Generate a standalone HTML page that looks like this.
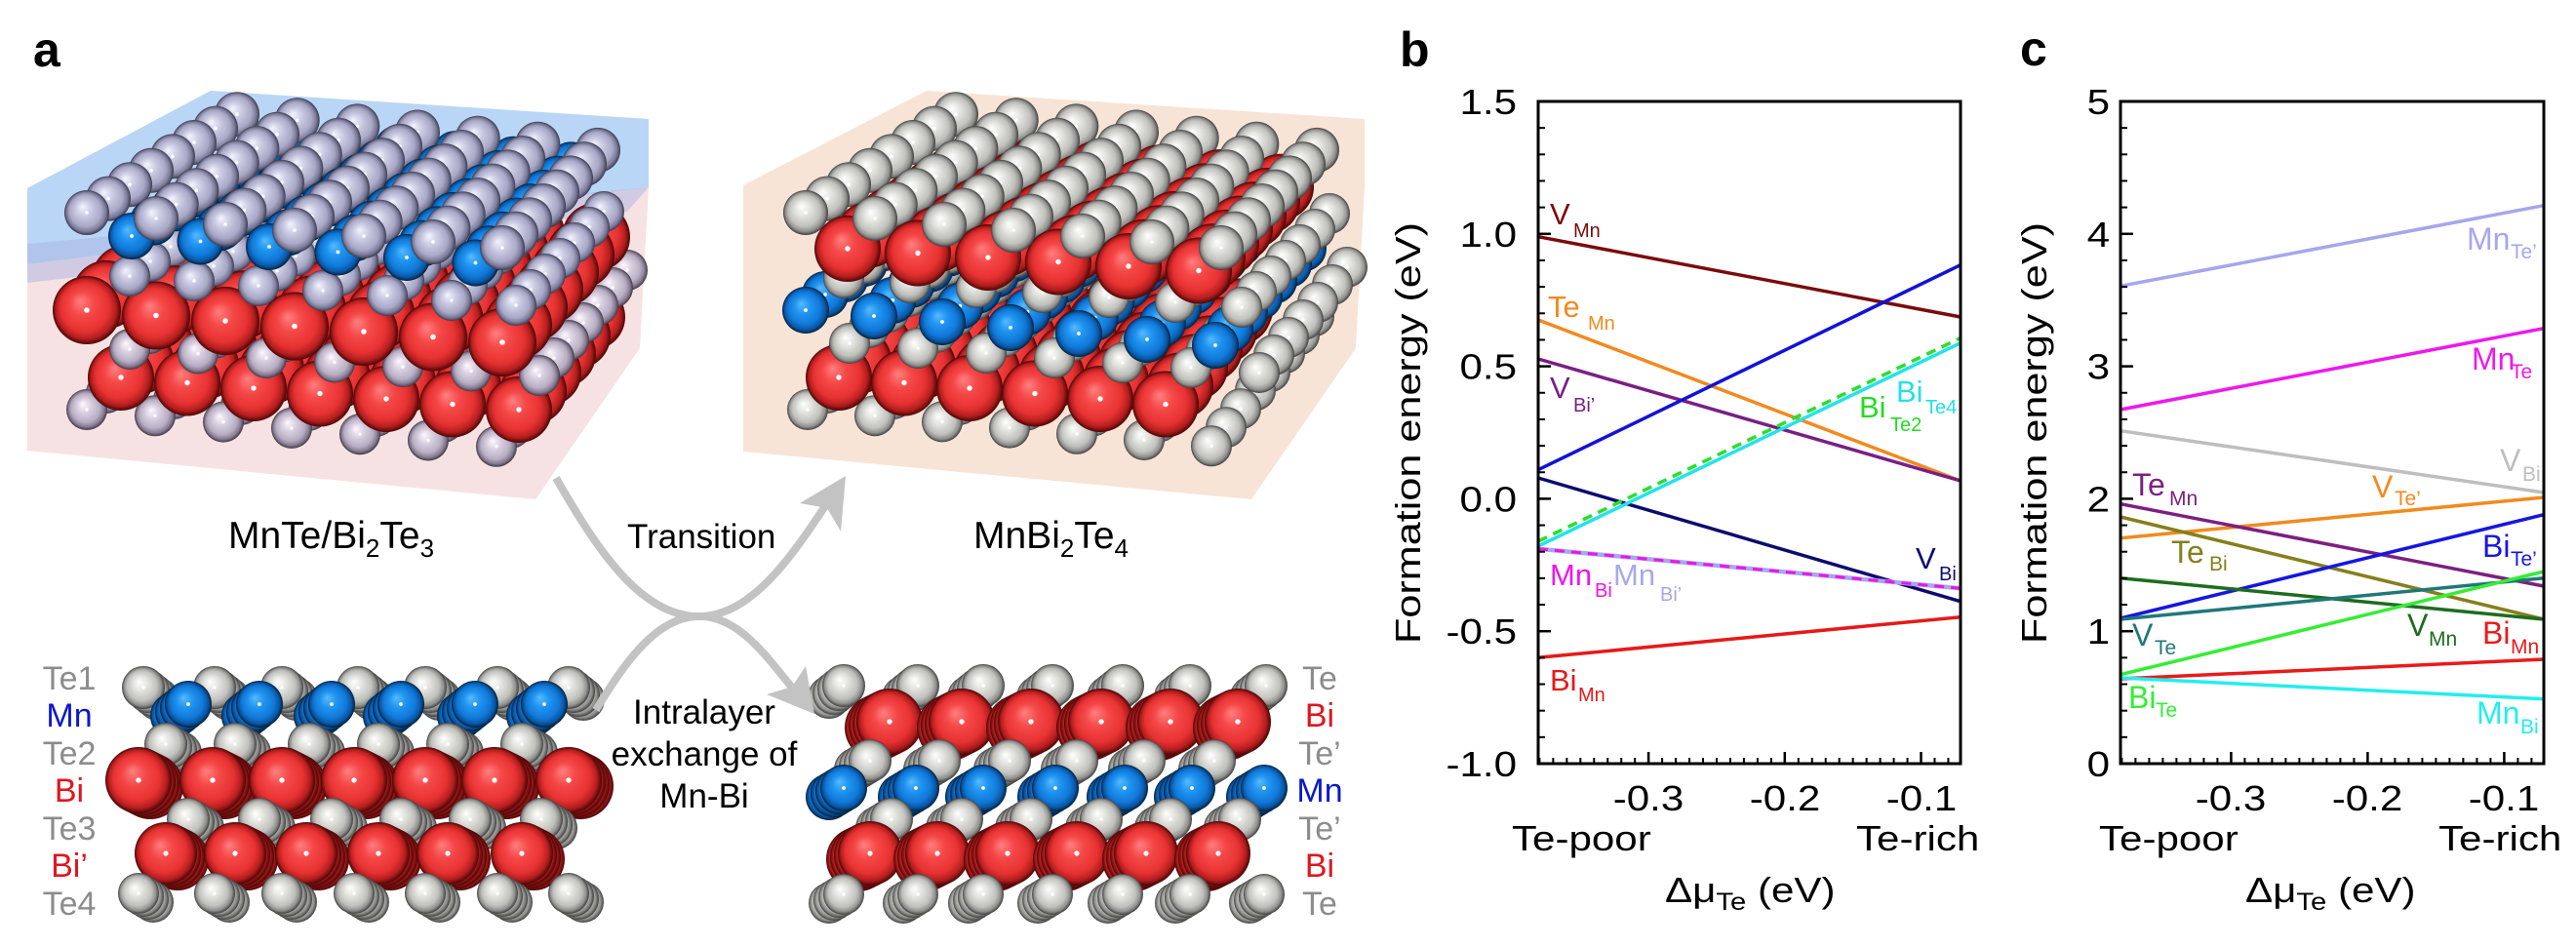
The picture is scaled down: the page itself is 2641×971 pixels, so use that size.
<!DOCTYPE html>
<html><head><meta charset="utf-8">
<style>
html,body{margin:0;padding:0;background:#fff;}
svg{display:block;}
text{font-family:"Liberation Sans",Arial,sans-serif;}
</style></head><body>
<svg id="fig" width="2641" height="971" viewBox="0 0 2641 971" xmlns="http://www.w3.org/2000/svg">
<defs>
 <radialGradient id="gR" cx="50%" cy="50%" r="50%" fx="40%" fy="36%">
  <stop offset="0" stop-color="#ff8080"/><stop offset=".35" stop-color="#f54848"/><stop offset=".7" stop-color="#e83232"/><stop offset=".88" stop-color="#b41e1e"/><stop offset="1" stop-color="#4a0606"/>
 </radialGradient>
 <radialGradient id="gB" cx="50%" cy="50%" r="50%" fx="40%" fy="36%">
  <stop offset="0" stop-color="#58baff"/><stop offset=".35" stop-color="#2094f0"/><stop offset=".7" stop-color="#1078d8"/><stop offset=".88" stop-color="#0a55a0"/><stop offset="1" stop-color="#03203c"/>
 </radialGradient>
 <radialGradient id="gG" cx="50%" cy="50%" r="50%" fx="40%" fy="36%">
  <stop offset="0" stop-color="#ffffff"/><stop offset=".35" stop-color="#e2e2de"/><stop offset=".7" stop-color="#c0c0bc"/><stop offset=".88" stop-color="#8e8e8c"/><stop offset="1" stop-color="#3e3e3e"/>
 </radialGradient>
 <radialGradient id="gL" cx="50%" cy="50%" r="50%" fx="40%" fy="36%">
  <stop offset="0" stop-color="#f4f4ff"/><stop offset=".35" stop-color="#cacae2"/><stop offset=".7" stop-color="#a9a9c8"/><stop offset=".88" stop-color="#7a7a98"/><stop offset="1" stop-color="#3a3a4e"/>
 </radialGradient>
 <radialGradient id="gP" cx="50%" cy="50%" r="50%" fx="40%" fy="36%">
  <stop offset="0" stop-color="#fff8ff"/><stop offset=".35" stop-color="#d8d0e0"/><stop offset=".7" stop-color="#b8aec4"/><stop offset=".88" stop-color="#85798f"/><stop offset="1" stop-color="#3e3844"/>
 </radialGradient>
 <pattern id="pxb" patternUnits="userSpaceOnUse" x="1577.4" y="0" width="13.968" height="971"><rect width="2" height="971" fill="#000"/></pattern>
 <pattern id="pxc" patternUnits="userSpaceOnUse" x="2174.4" y="0" width="14" height="971"><rect width="2" height="971" fill="#000"/></pattern>
 <pattern id="py" patternUnits="userSpaceOnUse" x="0" y="103" width="2641" height="27.16"><rect width="2641" height="2" fill="#000"/></pattern>
</defs>
<rect width="2641" height="971" fill="#fff"/>

<!-- ===== Panel a ===== -->
<text x="34" y="68" font-size="50" font-weight="bold">a</text>

<polygon points="28,193 216,93 665,122 665,192 28,271" fill="#b9d6f6"/>
<polygon points="28,271 665,192 656,357 549,512 28,462" fill="#f7e2e3"/>
<polygon points="28,250 665,192 643,217 28,290" fill="#a9b3e2" opacity="0.5"/>
<polygon points="762,190 950,93 1399,122 1399,192 1390,357 1283,512 762,463" fill="#f7e4d6"/>

<g id="atoms"></g>

<text x="234" y="562" font-size="39">MnTe/Bi<tspan font-size="26" dy="9">2</tspan><tspan dy="-9">Te</tspan><tspan font-size="26" dy="9">3</tspan></text>
<text x="998" y="562" font-size="39">MnBi<tspan font-size="26" dy="9">2</tspan><tspan dy="-9">Te</tspan><tspan font-size="26" dy="9">4</tspan></text>
<text x="643" y="562" font-size="35">Transition</text>
<text x="722" y="742" font-size="35" text-anchor="middle">Intralayer</text>
<text x="722" y="785" font-size="35" text-anchor="middle">exchange of</text>
<text x="722" y="828" font-size="35" text-anchor="middle">Mn-Bi</text>

<g font-size="34" text-anchor="middle">
 <text x="71" y="707" fill="#8c8c8c">Te1</text>
 <text x="71" y="745" fill="#0c18c8">Mn</text>
 <text x="71" y="784" fill="#8c8c8c">Te2</text>
 <text x="71" y="822" fill="#e0161e">Bi</text>
 <text x="71" y="861" fill="#8c8c8c">Te3</text>
 <text x="71" y="899" fill="#e0161e">Bi’</text>
 <text x="71" y="938" fill="#8c8c8c">Te4</text>
</g>
<g font-size="34" text-anchor="middle">
 <text x="1353" y="707" fill="#8c8c8c">Te</text>
 <text x="1353" y="745" fill="#e0161e">Bi</text>
 <text x="1353" y="784" fill="#8c8c8c">Te’</text>
 <text x="1353" y="822" fill="#0c18c8">Mn</text>
 <text x="1353" y="861" fill="#8c8c8c">Te’</text>
 <text x="1353" y="899" fill="#e0161e">Bi</text>
 <text x="1353" y="938" fill="#8c8c8c">Te</text>
</g>

<g fill="none" stroke="#c3c3c3" stroke-width="8" stroke-linecap="butt">
 <path d="M570,490 C610,560 655,630 714,632 C772,634 815,565 852,510"/>
 <path d="M611,728 C640,680 672,634 714,632 C756,630 785,672 812,705"/>
</g>
<polygon points="867,488 820,516 848,521 862,545" fill="#c3c3c3"/>
<polygon points="835,732 786,712 812,704 826,683" fill="#c3c3c3"/>

<!-- ===== Panel b ===== -->
<text x="1435" y="68" font-size="50" font-weight="bold">b</text>
<g stroke-width="3.5" fill="none">
 <line x1="1577" y1="242.7" x2="2010" y2="325" stroke="#7a0c0c"/>
 <line x1="1577" y1="328" x2="2010" y2="493" stroke="#f28a1e"/>
 <line x1="1577" y1="368" x2="2010" y2="493" stroke="#7a1e86"/>
 <line x1="1577" y1="490" x2="2010" y2="616.7" stroke="#0c0c6e"/>
 <line x1="1577" y1="560" x2="2010" y2="351.7" stroke="#22e4e8"/>
 <line x1="1577" y1="555" x2="2010" y2="346.5" stroke="#2ae02a" stroke-dasharray="10 7"/>
 <line x1="1577" y1="481.7" x2="2010" y2="271.7" stroke="#1212d8"/>
 <line x1="1577" y1="562.7" x2="2010" y2="603.3" stroke="#a8a8ea" stroke-width="4.5"/>
 <line x1="1577" y1="562.7" x2="2010" y2="603.3" stroke="#ee14ee" stroke-width="3" stroke-dasharray="10 7"/>
 <line x1="1577" y1="674.3" x2="2010" y2="632.7" stroke="#e81818"/>
</g>
<rect x="1577" y="104" width="433" height="679" fill="none" stroke="#000" stroke-width="3"/>
<rect x="1577" y="777" width="433" height="6" fill="url(#pxb)"/>
<rect x="1577" y="104" width="7" height="679" fill="url(#py)"/>
<g stroke="#000" stroke-width="2.5">
 <line x1="1690.1" y1="771" x2="1690.1" y2="783"/>
 <line x1="1829.8" y1="771" x2="1829.8" y2="783"/>
 <line x1="1969.5" y1="771" x2="1969.5" y2="783"/>
 <line x1="1577" y1="239.8" x2="1590" y2="239.8"/>
 <line x1="1577" y1="375.6" x2="1590" y2="375.6"/>
 <line x1="1577" y1="511.4" x2="1590" y2="511.4"/>
 <line x1="1577" y1="647.2" x2="1590" y2="647.2"/>
</g>
<g font-size="36" text-anchor="end">
 <text transform="translate(1555,117) scale(1.17,1)">1.5</text>
 <text transform="translate(1555,252.8) scale(1.17,1)">1.0</text>
 <text transform="translate(1555,388.6) scale(1.17,1)">0.5</text>
 <text transform="translate(1555,524.4) scale(1.17,1)">0.0</text>
 <text transform="translate(1555,660.2) scale(1.17,1)">-0.5</text>
 <text transform="translate(1555,796) scale(1.17,1)">-1.0</text>
</g>
<g font-size="36" text-anchor="middle">
 <text transform="translate(1690,831) scale(1.17,1)">-0.3</text>
 <text transform="translate(1830,831) scale(1.17,1)">-0.2</text>
 <text transform="translate(1970,831) scale(1.17,1)">-0.1</text>
</g>
<g font-size="36">
 <text transform="translate(1550,872) scale(1.17,1)">Te-poor</text>
 <text transform="translate(1903,872) scale(1.17,1)">Te-rich</text>
 <text transform="translate(1707,925) scale(1.17,1)">Δμ<tspan font-size="25" dy="8">Te</tspan><tspan dy="-8"> (eV)</tspan></text>
 <text transform="translate(1456,444) rotate(-90) scale(1.2,1)" text-anchor="middle">Formation energy (eV)</text>
</g>
<g font-size="31">
 <text x="1589" y="230" fill="#7a0c0c">V</text><text x="1613" y="243" font-size="20" fill="#7a0c0c">Mn</text>
 <text x="1587" y="325" fill="#f28a1e">Te</text><text x="1628" y="338" font-size="20" fill="#f28a1e">Mn</text>
 <text x="1589" y="408" fill="#7a1e86">V</text><text x="1613" y="422" font-size="20" fill="#7a1e86">Bi’</text>
 <text x="1906" y="428" fill="#22dd22">Bi</text><text x="1938" y="442" font-size="20" fill="#22dd22">Te2</text>
 <text x="1944" y="412" fill="#22e0e8">Bi</text><text x="1974" y="424" font-size="20" fill="#22e0e8">Te4</text>
 <text x="1964" y="583" fill="#0c0c6e">V</text><text x="1988" y="595" font-size="20" fill="#0c0c6e">Bi</text>
 <text x="1589" y="600" fill="#ee14ee">Mn</text><text x="1635" y="612" font-size="20" fill="#ee14ee">Bi</text>
 <text x="1654" y="600" fill="#a8a8ea">Mn</text><text x="1702" y="616" font-size="20" fill="#a8a8ea">Bi’</text>
 <text x="1589" y="708" fill="#e81818">Bi</text><text x="1618" y="719" font-size="20" fill="#e81818">Mn</text>
</g>

<!-- ===== Panel c ===== -->
<text x="2071" y="67" font-size="50" font-weight="bold">c</text>
<g stroke-width="3.5" fill="none">
 <line x1="2174" y1="293.3" x2="2608" y2="210.7" stroke="#a6a6ee"/>
 <line x1="2174" y1="420" x2="2608" y2="336.7" stroke="#ee18ee"/>
 <line x1="2174" y1="441.7" x2="2608" y2="505" stroke="#bebebe"/>
 <line x1="2174" y1="551.7" x2="2608" y2="510" stroke="#f28a1e"/>
 <line x1="2174" y1="516.7" x2="2608" y2="601" stroke="#7d1f80"/>
 <line x1="2174" y1="530" x2="2608" y2="635" stroke="#857f1c"/>
 <line x1="2174" y1="634" x2="2608" y2="527.7" stroke="#1616e0"/>
 <line x1="2174" y1="592.7" x2="2608" y2="635" stroke="#1e6c1e"/>
 <line x1="2174" y1="635" x2="2608" y2="592.7" stroke="#1f7878"/>
 <line x1="2174" y1="691.7" x2="2608" y2="586" stroke="#33ee33"/>
 <line x1="2174" y1="696" x2="2608" y2="676" stroke="#ea1a1a"/>
 <line x1="2174" y1="695" x2="2608" y2="716.7" stroke="#22eeee"/>
</g>
<rect x="2174" y="104" width="434" height="679" fill="none" stroke="#000" stroke-width="3"/>
<rect x="2174" y="777" width="434" height="6" fill="url(#pxc)"/>
<rect x="2174" y="104" width="7" height="679" fill="url(#py)"/>
<g stroke="#000" stroke-width="2.5">
 <line x1="2287.4" y1="771" x2="2287.4" y2="783"/>
 <line x1="2427.4" y1="771" x2="2427.4" y2="783"/>
 <line x1="2567.4" y1="771" x2="2567.4" y2="783"/>
 <line x1="2174" y1="239.8" x2="2187" y2="239.8"/>
 <line x1="2174" y1="375.6" x2="2187" y2="375.6"/>
 <line x1="2174" y1="511.4" x2="2187" y2="511.4"/>
 <line x1="2174" y1="647.2" x2="2187" y2="647.2"/>
</g>
<g font-size="36" text-anchor="end">
 <text transform="translate(2163,117) scale(1.17,1)">5</text>
 <text transform="translate(2163,252.8) scale(1.17,1)">4</text>
 <text transform="translate(2163,388.6) scale(1.17,1)">3</text>
 <text transform="translate(2163,524.4) scale(1.17,1)">2</text>
 <text transform="translate(2163,660.2) scale(1.17,1)">1</text>
 <text transform="translate(2163,796) scale(1.17,1)">0</text>
</g>
<g font-size="36" text-anchor="middle">
 <text transform="translate(2287,831) scale(1.17,1)">-0.3</text>
 <text transform="translate(2427,831) scale(1.17,1)">-0.2</text>
 <text transform="translate(2567,831) scale(1.17,1)">-0.1</text>
</g>
<g font-size="36">
 <text transform="translate(2152,872) scale(1.17,1)">Te-poor</text>
 <text transform="translate(2500,872) scale(1.17,1)">Te-rich</text>
 <text transform="translate(2302,925) scale(1.17,1)">Δμ<tspan font-size="25" dy="8">Te</tspan><tspan dy="-8"> (eV)</tspan></text>
 <text transform="translate(2098,444) rotate(-90) scale(1.2,1)" text-anchor="middle">Formation energy (eV)</text>
</g>
<g font-size="32">
 <text x="2529" y="256" fill="#a6a6ee">Mn</text><text x="2574" y="265" font-size="21" fill="#a6a6ee">Te’</text>
 <text x="2534" y="379" fill="#ee18ee">Mn</text><text x="2574" y="388" font-size="21" fill="#ee18ee">Te</text>
 <text x="2563" y="483" fill="#bebebe">V</text><text x="2586" y="493" font-size="21" fill="#bebebe">Bi</text>
 <text x="2186" y="508" fill="#7d1f80">Te</text><text x="2224" y="518" font-size="21" fill="#7d1f80">Mn</text>
 <text x="2432" y="510" fill="#f28a1e">V</text><text x="2455" y="518" font-size="21" fill="#f28a1e">Te’</text>
 <text x="2226" y="577" fill="#857f1c">Te</text><text x="2265" y="585" font-size="21" fill="#857f1c">Bi</text>
 <text x="2545" y="571" fill="#1616e0">Bi</text><text x="2574" y="580" font-size="21" fill="#1616e0">Te’</text>
 <text x="2186" y="662" fill="#1f7878">V</text><text x="2209" y="671" font-size="21" fill="#1f7878">Te</text>
 <text x="2468" y="652" fill="#1e6c1e">V</text><text x="2490" y="662" font-size="21" fill="#1e6c1e">Mn</text>
 <text x="2545" y="660" fill="#ea1a1a">Bi</text><text x="2574" y="670" font-size="21" fill="#ea1a1a">Mn</text>
 <text x="2182" y="726" fill="#33ee33">Bi</text><text x="2210" y="735" font-size="21" fill="#33ee33">Te</text>
 <text x="2539" y="742" fill="#22eeee">Mn</text><text x="2584" y="752" font-size="21" fill="#22eeee">Bi</text>
</g>
</svg>
<script>
(function(){
var o=[];
function S(x,y,r,c,d){
 o.push('<circle cx="'+x.toFixed(1)+'" cy="'+y.toFixed(1)+'" r="'+r+'" fill="url(#g'+c+')"/>');
 if(d!==false)o.push('<circle cx="'+x.toFixed(1)+'" cy="'+y.toFixed(1)+'" r="'+Math.max(1.5,r*0.08).toFixed(1)+'" fill="#fff"/>');
}
function crystal(Ls){
 var a=[];
 Ls.forEach(function(L,li){
  var nc=L.n[0],nd=L.n[1];
  for(var i=0;i<nc;i++){
   var t=nc>1?i/(nc-1):0,dx=L.DL[0]+(L.DR[0]-L.DL[0])*t,dy=L.DL[1]+(L.DR[1]-L.DL[1])*t;
   for(var k=0;k<nd;k++){a.push([L.P[0]+i*L.C[0]+k*dx,L.P[1]+i*L.C[1]+k*dy,L.r,L.c,k,li,i]);}
  }
 });
 a.sort(function(p,q){return (q[4]-p[4])||(p[5]-q[5])||(p[6]-q[6]);});
 a.forEach(function(s){S(s[0],s[1],s[2],s[3]);});
}
function row(y,r,c,xs,tx,ty){
 xs.forEach(function(x){for(var j=3;j>=1;j--)S(x+tx*j,y+ty*j,r,c,false);S(x,y,r,c);});
}
crystal([
 {P:[89,420],C:[70,6.3],DL:[20,-17],DR:[15,-19],n:[7,8],r:21,c:'P'},
 {P:[124,387],C:[68,5.5],DL:[20,-17],DR:[15,-19],n:[7,6],r:34,c:'R'},
 {P:[133,358],C:[70,4.5],DL:[20,-16],DR:[15,-18],n:[7,7],r:21,c:'P'},
 {P:[89,318],C:[71,5.5],DL:[20,-16],DR:[16,-18],n:[7,7],r:35,c:'R'},
 {P:[133,283],C:[66,5],DL:[21,-15],DR:[15,-16],n:[7,7],r:21,c:'L'},
 {P:[135,242],C:[70.5,5.5],DL:[22,-14.4],DR:[14,-14.3],n:[6,8],r:24,c:'B'},
 {P:[89,218],C:[71,6],DL:[22,-14.4],DR:[14,-14.3],n:[7,8],r:23,c:'L'}
]);
crystal([
 {P:[828,420],C:[69,6.2],DL:[20,-17],DR:[15,-19],n:[7,8],r:21,c:'G'},
 {P:[860,387],C:[67,5.5],DL:[20,-17],DR:[15,-19],n:[6,6],r:34,c:'R'},
 {P:[871,352],C:[70,5],DL:[20,-16],DR:[15,-18],n:[7,7],r:21,c:'G'},
 {P:[826,318],C:[70,6],DL:[20,-16],DR:[15,-16.6],n:[7,7],r:24,c:'B'},
 {P:[865,285],C:[68,5],DL:[21,-15],DR:[15,-16],n:[7,7],r:21,c:'G'},
 {P:[869,255],C:[72,4.5],DL:[22,-14.4],DR:[14,-14.3],n:[6,7],r:34,c:'R'},
 {P:[826,218],C:[71,6],DL:[22,-14.4],DR:[14,-14.3],n:[7,8],r:23,c:'G'}
]);
row(705,22,'G',[147,220,289,367,436,510,583],5,4);
row(722,24,'B',[193,266,340,411,487,558],-5,4);
row(763,22,'G',[170,241,317,388,459,535],5,3);
row(800,34,'R',[142,218,289,363,436,507,583],4,2);
row(840,22,'G',[193,266,340,411,482,555],5,3);
row(875,32,'R',[170,241,314,388,459,535],4,2);
row(916,21,'G',[142,220,289,363,436,510,583],5,3);
row(703,22,'G',[865,941,1008,1079,1151,1220,1298],-5,4);
row(740,34,'R',[912,986,1057,1129,1200,1269],-4,2);
row(780,22,'G',[892,963,1035,1104,1173,1245],-5,3);
row(808,24,'B',[865,939,1008,1082,1153,1222,1296],-5,3);
row(840,22,'G',[914,986,1057,1129,1200,1271],-5,3);
row(875,33,'R',[892,961,1033,1104,1175,1249],-4,2);
row(917,21,'G',[865,941,1008,1079,1151,1220,1296],-5,3);
document.getElementById('atoms').innerHTML=o.join('');
})();
</script>
</body></html>
